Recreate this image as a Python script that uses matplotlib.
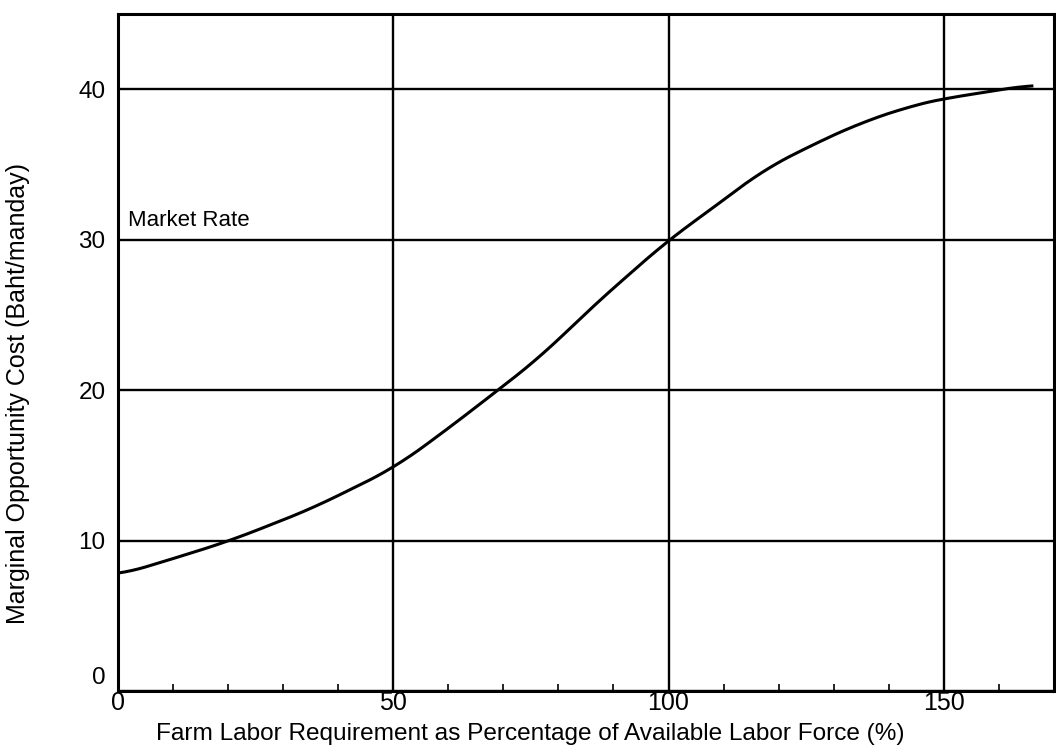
import matplotlib
matplotlib.use("Agg")
import matplotlib.pyplot as plt
import matplotlib.transforms as mtransforms
import numpy as np

# Values
labor_pct = [0, 10, 20.4, 35, 50, 58.7, 69, 77, 86, 95, 100,
             108, 117, 126, 135, 144, 150.5, 154, 162, 166]
opp_cost = [7.7, 8.8, 10.0, 12.1, 14.8, 17.1, 20.0, 22.3, 25.5, 28.4, 30.0,
            32.1, 34.6, 36.3, 37.8, 38.9, 39.45, 39.6, 40.1, 40.3]
x_ticks = [0, 50, 100, 150]
y_ticks = [0, 10, 20, 30, 40]

plt.rcParams['font.family'] = ['Liberation Sans', 'DejaVu Sans']

fig = plt.figure(figsize=(10.56, 7.53), dpi=100)
ax = fig.add_axes([0.1117, 0.0823, 0.8863, 0.8987])

# smooth the read points a little for drawing
xs = np.linspace(labor_pct[0], labor_pct[-1], 400)
ys = np.interp(xs, labor_pct, opp_cost)
k = 12
ys_s = np.convolve(np.pad(ys, k, mode='edge'), np.ones(2 * k + 1) / (2 * k + 1), mode='same')[k:-k]
ax.plot(xs, ys_s, color='black', lw=2.2, zorder=3)

ax.set_xlim(0, 170)
ax.set_ylim(0, 45)
ax.set_xticks(x_ticks)
ax.set_yticks(y_ticks)
ax.set_xticks(np.arange(10, 170, 10), minor=True)
ax.grid(True, which='major', color='black', lw=1.7)
ax.tick_params(axis='x', which='major', length=0, labelsize=18, pad=0)
ax.tick_params(axis='y', which='major', length=0, labelsize=17.5, pad=9)
ax.tick_params(axis='x', which='minor', direction='in', length=5, width=1.2)
for s in ax.spines.values():
    s.set_linewidth(2.2)

# the "0" label sits above the baseline in the original
lbl0 = ax.get_yticklabels()[0]
lbl0.set_transform(lbl0.get_transform() + mtransforms.ScaledTranslation(0, 0.16, fig.dpi_scale_trans))

ax.text(1.8, 30.9, "Market Rate", fontsize=16, va='baseline', ha='left')

ax.set_xlabel("Farm Labor Requirement as Percentage of Available Labor Force (%)", fontsize=17.6)
ax.set_ylabel("Marginal Opportunity Cost (Baht/manday)", fontsize=18)
ax.xaxis.set_label_coords(0.44, -0.047)
ax.yaxis.set_label_coords(-0.094, 0.439)

plt.savefig("out.png", dpi=100)
